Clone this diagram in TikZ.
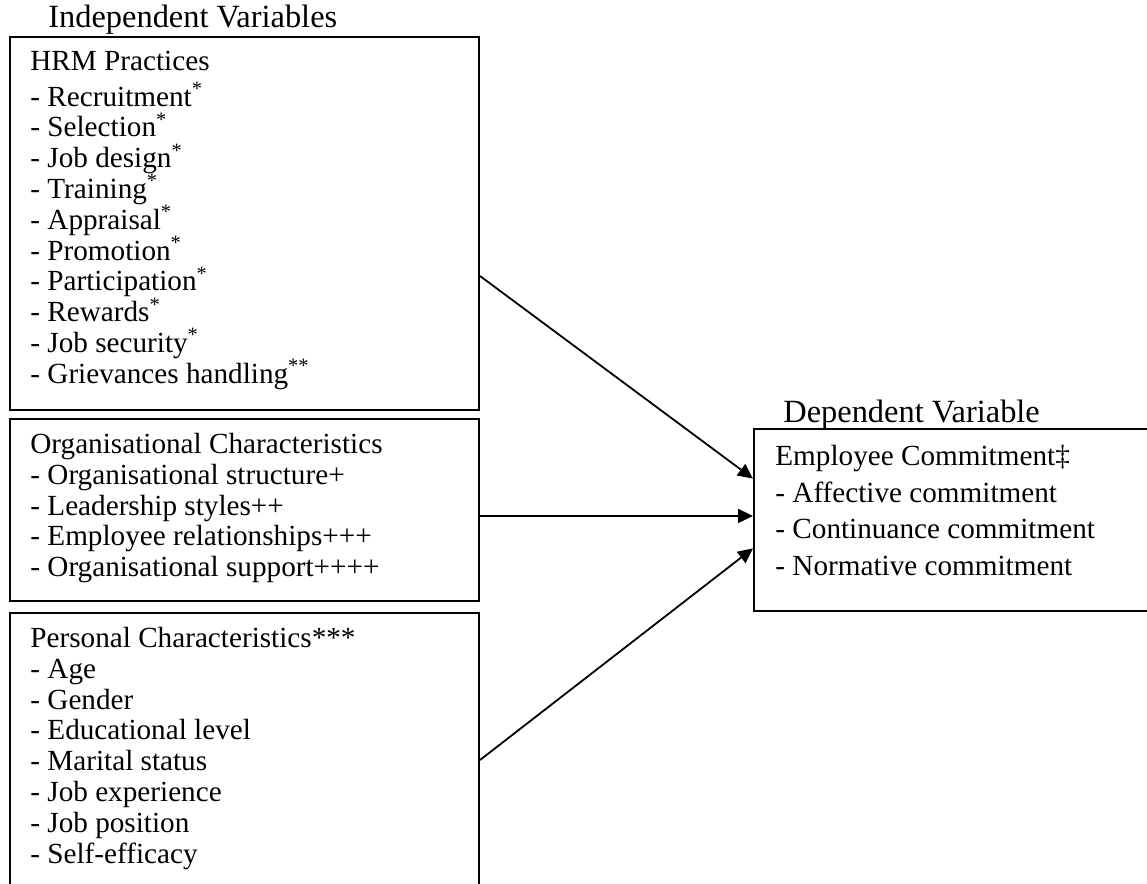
\documentclass[tikz,border=0pt]{standalone}
\usepackage{fontspec}
\setmainfont{Liberation Serif}
\usepackage{tikz}
\usetikzlibrary{arrows.meta, positioning, calc}

\begin{document}
\begin{tikzpicture}[
  x=0.5pt, y=-0.5pt,
  frame/.style={rectangle, draw=black, line width=1pt, anchor=north west, inner sep=0pt},
  itemtext/.style={anchor=north west, inner sep=0pt, align=left,
                   font=\fontsize{14.6}{15.4}\selectfont},
  deptext/.style={itemtext, font=\fontsize{14.6}{18.3}\selectfont},
  heading/.style={anchor=base west, inner sep=0pt, font=\fontsize{16.2}{18}\selectfont},
  arrow/.style={-{Triangle[length=7.5pt, width=7pt]}, line width=0.9pt, black}
]
  \useasboundingbox (0,0) rectangle (1147,884);
  \clip (0,0) rectangle (1147,884);

  % the three independent boxes
  \node[frame, minimum width=234.5pt, minimum height=186.5pt] (hrm) at (9,36) {};
  \node[frame, minimum width=234.5pt, minimum height=91pt] (org) at (9,418) {};
  \node[frame, minimum width=234.5pt, minimum height=150pt] (pers) at (9,612) {};
  % dependent box
  \node[frame, minimum width=200pt, minimum height=91pt] (dep) at (753,428) {};

  \node[heading] (indep) at (48,27) {Independent Variables};
  \node[heading] (deph) at (783,422) {Dependent Variable};

  \node[itemtext] (hrmtext) at (30,49) {\strut HRM Practices\\
    - Recruitment\textsuperscript{*}\\
    - Selection\textsuperscript{*}\\
    - Job design\textsuperscript{*}\\
    - Training\textsuperscript{*}\\
    - Appraisal\textsuperscript{*}\\
    - Promotion\textsuperscript{*}\\
    - Participation\textsuperscript{*}\\
    - Rewards\textsuperscript{*}\\
    - Job security\textsuperscript{*}\\
    - Grievances handling\textsuperscript{**}};

  \node[itemtext] (orgtext) at (30,431.5) {\strut Organisational Characteristics\\
    - Organisational structure+\\
    - Leadership styles++\\
    - Employee relationships+++\\
    - Organisational support++++};

  \node[itemtext] (perstext) at (30,625.5) {\strut Personal Characteristics***\\
    - Age\\
    - Gender\\
    - Educational level\\
    - Marital status\\
    - Job experience\\
    - Job position\\
    - Self-efficacy};

  \node[deptext] (deptext) at (775,439.5) {\strut Employee Commitment‡\\
    - Affective commitment\\
    - Continuance commitment\\
    - Normative commitment};

  \draw[arrow] ($(hrm.north east)!0.64!(hrm.south east)$) -- ($(dep.north west)!0.275!(dep.south west)$);
  \draw[arrow] ($(org.north east)!0.533!(org.south east)$) -- ($(dep.north west)!0.478!(dep.south west)$);
  \draw[arrow] ($(pers.north east)+(0,148)$) -- ($(dep.north west)!0.654!(dep.south west)$);
\end{tikzpicture}
\end{document}
